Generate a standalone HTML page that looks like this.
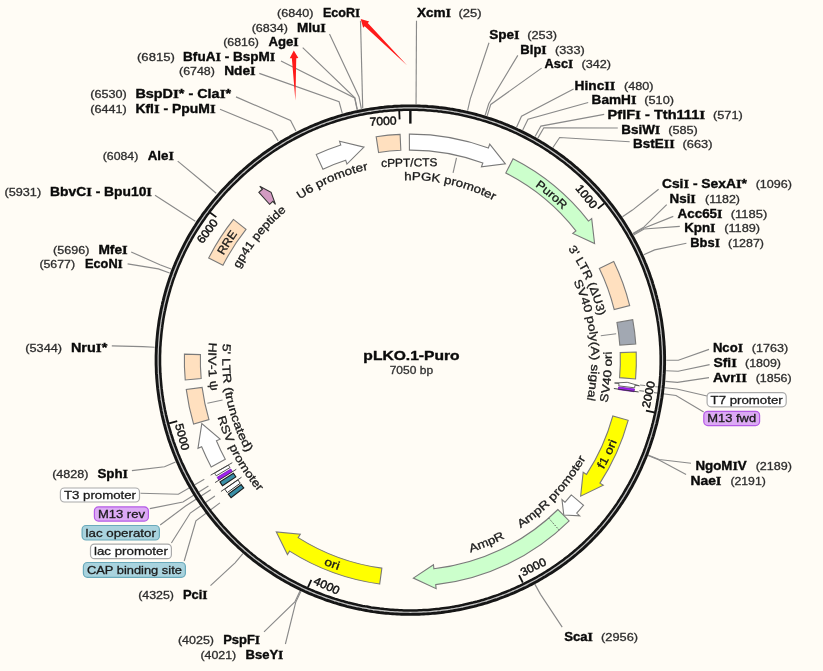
<!DOCTYPE html>
<html><head><meta charset="utf-8"><style>
html,body{margin:0;padding:0;background:#fffcf5;}
svg{display:block;will-change:transform;}
</style></head><body>
<svg width="823" height="671" viewBox="0 0 823 671" font-family="Liberation Sans, sans-serif">
<rect width="823" height="671" fill="#fffcf5"/>
<polyline points="362.72,108.57 360.50,20.70" fill="none" stroke="#8a8a8a" stroke-width="1.15"/>
<polyline points="361.37,108.83 359.08,97.05 329.50,34.10" fill="none" stroke="#8a8a8a" stroke-width="1.15"/>
<polyline points="357.35,109.65 354.86,97.91 302.70,47.60" fill="none" stroke="#8a8a8a" stroke-width="1.15"/>
<polyline points="357.12,109.69 354.63,97.96 281.00,61.00" fill="none" stroke="#8a8a8a" stroke-width="1.15"/>
<polyline points="342.28,113.32 339.09,101.75 259.30,73.40" fill="none" stroke="#8a8a8a" stroke-width="1.15"/>
<polyline points="295.91,131.10 290.55,120.37 236.00,96.90" fill="none" stroke="#8a8a8a" stroke-width="1.15"/>
<polyline points="278.13,140.89 271.93,130.62 220.00,109.20" fill="none" stroke="#8a8a8a" stroke-width="1.15"/>
<polyline points="216.19,193.26 207.09,185.44 177.70,161.10" fill="none" stroke="#8a8a8a" stroke-width="1.15"/>
<polyline points="195.31,221.20 185.23,214.69 155.00,195.30" fill="none" stroke="#8a8a8a" stroke-width="1.15"/>
<polyline points="171.13,268.94 159.92,264.67 131.20,252.00" fill="none" stroke="#8a8a8a" stroke-width="1.15"/>
<polyline points="169.62,273.01 158.34,268.93 127.60,263.90" fill="none" stroke="#8a8a8a" stroke-width="1.15"/>
<polyline points="154.67,347.21 142.69,346.61 111.80,345.90" fill="none" stroke="#8a8a8a" stroke-width="1.15"/>
<polyline points="175.52,462.03 164.51,466.81 131.90,470.60" fill="none" stroke="#8a8a8a" stroke-width="1.15"/>
<polyline points="242.90,553.74 235.05,562.82 210.50,585.70" fill="none" stroke="#8a8a8a" stroke-width="1.15"/>
<polyline points="300.01,591.10 294.84,601.93 264.00,631.90" fill="none" stroke="#8a8a8a" stroke-width="1.15"/>
<polyline points="300.83,591.49 295.70,602.34 285.40,644.00" fill="none" stroke="#8a8a8a" stroke-width="1.15"/>
<polyline points="416.05,104.16 416.50,20.80" fill="none" stroke="#8a8a8a" stroke-width="1.15"/>
<polyline points="467.59,110.58 470.27,98.88 489.00,42.70" fill="none" stroke="#8a8a8a" stroke-width="1.15"/>
<polyline points="485.22,115.29 488.72,103.82 517.80,55.40" fill="none" stroke="#8a8a8a" stroke-width="1.15"/>
<polyline points="487.18,115.90 490.78,104.45 541.60,68.10" fill="none" stroke="#8a8a8a" stroke-width="1.15"/>
<polyline points="516.55,127.17 521.53,116.25 573.60,88.90" fill="none" stroke="#8a8a8a" stroke-width="1.15"/>
<polyline points="522.74,130.09 528.01,119.31 588.20,102.50" fill="none" stroke="#8a8a8a" stroke-width="1.15"/>
<polyline points="535.08,136.54 540.92,126.06 604.20,114.40" fill="none" stroke="#8a8a8a" stroke-width="1.15"/>
<polyline points="537.86,138.11 543.83,127.71 617.80,128.00" fill="none" stroke="#8a8a8a" stroke-width="1.15"/>
<polyline points="552.97,147.51 559.65,137.54 629.70,141.70" fill="none" stroke="#8a8a8a" stroke-width="1.15"/>
<polyline points="622.50,216.82 632.44,210.10 658.60,189.20" fill="none" stroke="#8a8a8a" stroke-width="1.15"/>
<polyline points="632.85,233.49 643.28,227.55 666.70,204.60" fill="none" stroke="#8a8a8a" stroke-width="1.15"/>
<polyline points="633.18,234.08 643.63,228.17 673.30,216.40" fill="none" stroke="#8a8a8a" stroke-width="1.15"/>
<polyline points="633.63,234.88 644.10,229.01 679.80,226.40" fill="none" stroke="#8a8a8a" stroke-width="1.15"/>
<polyline points="643.70,254.83 654.64,249.90 686.40,243.30" fill="none" stroke="#8a8a8a" stroke-width="1.15"/>
<polyline points="666.35,360.21 678.35,360.22 709.00,349.40" fill="none" stroke="#8a8a8a" stroke-width="1.15"/>
<polyline points="666.13,370.71 678.12,371.20 709.60,364.60" fill="none" stroke="#8a8a8a" stroke-width="1.15"/>
<polyline points="665.46,381.41 677.42,382.41 709.00,377.60" fill="none" stroke="#8a8a8a" stroke-width="1.15"/>
<polyline points="648.08,455.08 659.22,459.53 691.00,463.30" fill="none" stroke="#8a8a8a" stroke-width="1.15"/>
<polyline points="647.91,455.51 659.04,459.98 686.10,474.60" fill="none" stroke="#8a8a8a" stroke-width="1.15"/>
<polyline points="534.68,583.88 540.51,594.37 562.20,627.10" fill="none" stroke="#8a8a8a" stroke-width="1.15"/>
<polyline points="204.32,479.24 178.35,494.26 140.50,493.30" fill="none" stroke="#8a8a8a" stroke-width="1.15"/>
<polyline points="208.43,486.08 182.97,501.96 149.80,508.60" fill="none" stroke="#8a8a8a" stroke-width="1.15"/>
<polyline points="210.75,489.72 185.59,506.06 160.20,525.00" fill="none" stroke="#8a8a8a" stroke-width="1.15"/>
<polyline points="214.92,495.93 190.28,513.05 171.40,543.00" fill="none" stroke="#8a8a8a" stroke-width="1.15"/>
<polyline points="219.93,502.87 195.92,520.86 184.20,561.00" fill="none" stroke="#8a8a8a" stroke-width="1.15"/>
<polyline points="640.01,384.97 676.79,388.95 708.10,396.20" fill="none" stroke="#8a8a8a" stroke-width="1.15"/>
<polyline points="639.32,390.65 676.00,395.54 703.70,412.10" fill="none" stroke="#8a8a8a" stroke-width="1.15"/>
<path d="M410.4,107.8 412.6,107.8 414.8,107.8 417.0,107.9 419.2,108.0 421.4,108.0 423.6,108.1 425.8,108.3 427.9,108.4 430.1,108.6 432.3,108.8 434.5,109.0 436.7,109.2 438.9,109.4 441.1,109.7 443.3,110.0 445.5,110.3 447.6,110.6 449.8,110.9 452.0,111.3 454.2,111.6 456.3,112.0 458.5,112.4 460.7,112.9 462.8,113.3 465.0,113.8 467.1,114.3 469.2,114.8 471.4,115.3 473.5,115.8 475.7,116.4 477.8,117.0 479.9,117.6 482.0,118.2 484.1,118.8 486.2,119.5 488.3,120.1 490.4,120.8 492.5,121.5 494.6,122.3 496.6,123.0 498.7,123.8 500.8,124.6 502.8,125.4 504.9,126.2 506.9,127.0 508.9,127.9 511.0,128.7 513.0,129.6 515.0,130.5 517.0,131.4 519.0,132.4 521.0,133.3 522.9,134.3 524.9,135.3 526.8,136.3 528.8,137.3 530.7,138.4 532.7,139.4 534.6,140.5 536.5,141.6 538.4,142.7 540.3,143.8 542.2,145.0 544.0,146.1 545.9,147.3 547.8,148.5 549.6,149.7 551.4,150.9 553.3,152.2 555.1,153.4 556.9,154.7 558.6,156.0 560.4,157.3 562.2,158.6 563.9,159.9 565.7,161.3 567.4,162.6 569.1,164.0 570.8,165.4 572.5,166.8 574.2,168.2 575.9,169.7 577.5,171.1 579.2,172.6 580.8,174.1 582.4,175.6 584.0,177.1 585.6,178.6 587.2,180.1 588.8,181.7 590.3,183.3 591.8,184.8 593.4,186.4 594.9,188.0 596.4,189.6 597.8,191.3 599.3,192.9 600.8,194.6 602.2,196.2 603.6,197.9 605.0,199.6 606.4,201.3 607.8,203.0 609.2,204.8 610.5,206.5 611.8,208.3 613.2,210.0 614.5,211.8 615.8,213.6 617.0,215.4 618.3,217.2 619.5,219.0 620.7,220.8 621.9,222.7 623.1,224.5 624.3,226.4 625.5,228.3 626.6,230.2 627.7,232.0 628.8,233.9 629.9,235.9 631.0,237.8 632.1,239.7 633.1,241.7 634.1,243.6 635.2,245.6 636.1,247.5 637.1,249.5 638.1,251.5 639.0,253.5 639.9,255.5 640.8,257.5 641.7,259.5 642.6,261.5 643.4,263.5 644.3,265.6 645.1,267.6 645.9,269.7 646.7,271.7 647.4,273.8 648.2,275.9 648.9,278.0 649.6,280.0 650.3,282.1 651.0,284.2 651.6,286.3 652.3,288.4 652.9,290.6 653.5,292.7 654.1,294.8 654.6,296.9 655.2,299.1 655.7,301.2 656.2,303.3 656.7,305.5 657.1,307.6 657.6,309.8 658.0,312.0 658.4,314.1 658.8,316.3 659.2,318.5 659.5,320.6 659.9,322.8 660.2,325.0 660.5,327.2 660.8,329.4 661.0,331.5 661.3,333.7 661.5,335.9 661.7,338.1 661.9,340.3 662.0,342.5 662.2,344.7 662.3,346.9 662.4,349.1 662.5,351.3 662.6,353.5 662.6,355.7 662.6,357.9 662.7,360.1 662.7,362.3 662.6,364.5 662.6,366.7 662.5,368.9 662.4,371.1 662.3,373.3 662.2,375.5 662.1,377.7 661.9,379.9 661.7,382.1 661.5,384.3 661.3,386.5 661.1,388.7 660.8,390.9 660.5,393.0 660.2,395.2 659.9,397.4 659.6,399.6 659.3,401.8 658.9,403.9 658.5,406.1 658.1,408.3 657.7,410.4 657.2,412.6 656.8,414.7 656.3,416.9 655.8,419.0 655.3,421.2 654.8,423.3 654.2,425.4 653.6,427.6 653.1,429.7 652.5,431.8 651.8,433.9 651.2,436.0 650.5,438.1 649.9,440.2 649.2,442.3 648.5,444.4 647.7,446.5 647.0,448.6 646.2,450.7 645.5,452.7 644.7,454.8 643.9,456.8 643.0,458.9 642.2,460.9 641.3,462.9 640.4,465.0 639.5,467.0 638.6,469.0 637.7,471.0 636.7,473.0 635.8,475.0 634.8,476.9 633.8,478.9 632.8,480.9 631.7,482.8 630.7,484.8 629.6,486.7 628.5,488.6 627.4,490.5 626.3,492.4 625.2,494.3 624.0,496.2 622.8,498.1 621.7,500.0 620.4,501.8 619.2,503.7 618.0,505.5 616.7,507.3 615.5,509.1 614.2,510.9 612.9,512.7 611.5,514.5 610.2,516.2 608.9,518.0 607.5,519.7 606.1,521.5 604.7,523.2 603.3,524.9 601.8,526.6 600.4,528.2 598.9,529.9 597.4,531.5 595.9,533.2 594.4,534.8 592.9,536.4 591.3,538.0 589.8,539.5 588.2,541.1 586.6,542.6 585.0,544.1 583.4,545.7 581.8,547.2 580.1,548.6 578.4,550.1 576.8,551.5 575.1,553.0 573.4,554.4 571.7,555.8 569.9,557.2 568.2,558.5 566.4,559.9 564.7,561.2 562.9,562.5 561.1,563.8 559.3,565.1 557.5,566.4 555.7,567.6 553.8,568.9 552.0,570.1 550.1,571.3 548.3,572.5 546.4,573.7 544.5,574.8 542.6,575.9 540.7,577.1 538.8,578.2 536.9,579.3 534.9,580.3 533.0,581.4 531.1,582.4 529.1,583.4 527.1,584.4 525.2,585.4 523.2,586.4 521.2,587.3 519.2,588.3 517.2,589.2 515.2,590.1 513.1,591.0 511.1,591.8 509.1,592.7 507.0,593.5 505.0,594.3 502.9,595.1 500.9,595.9 498.8,596.7 496.7,597.4 494.7,598.2 492.6,598.9 490.5,599.6 488.4,600.2 486.3,600.9 484.2,601.5 482.1,602.2 479.9,602.8 477.8,603.4 475.7,603.9 473.5,604.5 471.4,605.0 469.3,605.5 467.1,606.0 465.0,606.5 462.8,607.0 460.7,607.4 458.5,607.8 456.3,608.2 454.2,608.6 452.0,609.0 449.8,609.3 447.6,609.7 445.5,610.0 443.3,610.3 441.1,610.5 438.9,610.8 436.7,611.0 434.5,611.3 432.3,611.5 430.1,611.6 428.0,611.8 425.8,611.9 423.6,612.1 421.4,612.2 419.2,612.3 417.0,612.3 414.8,612.4 412.6,612.4 410.4,612.4 408.1,612.4 405.9,612.4 403.7,612.3 401.5,612.3 399.3,612.2 397.1,612.1 394.9,611.9 392.8,611.8 390.6,611.6 388.4,611.4 386.2,611.2 384.0,611.0 381.8,610.8 379.6,610.5 377.4,610.2 375.2,609.9 373.1,609.6 370.9,609.3 368.7,608.9 366.5,608.6 364.4,608.2 362.2,607.8 360.0,607.3 357.9,606.9 355.7,606.4 353.6,605.9 351.5,605.4 349.3,604.9 347.2,604.4 345.0,603.8 342.9,603.2 340.8,602.6 338.7,602.0 336.6,601.4 334.5,600.7 332.4,600.1 330.3,599.4 328.2,598.7 326.1,597.9 324.1,597.2 322.0,596.4 319.9,595.6 317.9,594.8 315.8,594.0 313.8,593.2 311.8,592.3 309.7,591.5 307.7,590.6 305.7,589.7 303.7,588.8 301.7,587.8 299.7,586.9 297.8,585.9 295.8,584.9 293.9,583.9 291.9,582.9 290.0,581.8 288.0,580.8 286.1,579.7 284.2,578.6 282.3,577.5 280.4,576.4 278.5,575.2 276.7,574.1 274.8,572.9 272.9,571.7 271.1,570.5 269.3,569.3 267.4,568.0 265.6,566.8 263.8,565.5 262.1,564.2 260.3,562.9 258.5,561.6 256.8,560.3 255.0,558.9 253.3,557.6 251.6,556.2 249.9,554.8 248.2,553.4 246.5,552.0 244.8,550.5 243.2,549.1 241.5,547.6 239.9,546.1 238.3,544.6 236.7,543.1 235.1,541.6 233.5,540.1 231.9,538.5 230.4,536.9 228.9,535.4 227.3,533.8 225.8,532.2 224.3,530.6 222.9,528.9 221.4,527.3 219.9,525.6 218.5,524.0 217.1,522.3 215.7,520.6 214.3,518.9 212.9,517.2 211.5,515.4 210.2,513.7 208.9,511.9 207.5,510.2 206.2,508.4 204.9,506.6 203.7,504.8 202.4,503.0 201.2,501.2 200.0,499.4 198.8,497.5 197.6,495.7 196.4,493.8 195.2,491.9 194.1,490.0 193.0,488.2 191.9,486.2 190.8,484.3 189.7,482.4 188.6,480.5 187.6,478.5 186.6,476.6 185.5,474.6 184.6,472.7 183.6,470.7 182.6,468.7 181.7,466.7 180.8,464.7 179.9,462.7 179.0,460.7 178.1,458.7 177.3,456.7 176.4,454.6 175.6,452.6 174.8,450.5 174.0,448.5 173.3,446.4 172.5,444.3 171.8,442.2 171.1,440.2 170.4,438.1 169.7,436.0 169.1,433.9 168.4,431.8 167.8,429.6 167.2,427.5 166.6,425.4 166.1,423.3 165.5,421.1 165.0,419.0 164.5,416.9 164.0,414.7 163.6,412.6 163.1,410.4 162.7,408.2 162.3,406.1 161.9,403.9 161.5,401.7 161.2,399.6 160.8,397.4 160.5,395.2 160.2,393.0 159.9,390.8 159.7,388.7 159.4,386.5 159.2,384.3 159.0,382.1 158.8,379.9 158.7,377.7 158.5,375.5 158.4,373.3 158.3,371.1 158.2,368.9 158.1,366.7 158.1,364.5 158.1,362.3 158.1,360.1 158.1,357.9 158.1,355.7 158.1,353.5 158.2,351.3 158.3,349.1 158.4,346.9 158.5,344.7 158.7,342.5 158.8,340.3 159.0,338.1 159.2,335.9 159.4,333.7 159.7,331.5 159.9,329.4 160.2,327.2 160.5,325.0 160.8,322.8 161.2,320.6 161.5,318.5 161.9,316.3 162.3,314.1 162.7,312.0 163.1,309.8 163.6,307.6 164.1,305.5 164.5,303.4 165.1,301.2 165.6,299.1 166.1,296.9 166.7,294.8 167.3,292.7 167.9,290.6 168.5,288.5 169.1,286.4 169.8,284.3 170.5,282.2 171.2,280.1 171.9,278.0 172.6,275.9 173.4,273.8 174.2,271.8 174.9,269.7 175.7,267.7 176.6,265.6 177.4,263.6 178.3,261.6 179.2,259.6 180.1,257.6 181.0,255.6 181.9,253.6 182.9,251.6 183.8,249.6 184.8,247.7 185.8,245.7 186.9,243.8 187.9,241.8 189.0,239.9 190.0,238.0 191.1,236.1 192.2,234.2 193.4,232.3 194.5,230.4 195.7,228.5 196.8,226.7 198.0,224.8 199.2,223.0 200.5,221.2 201.7,219.4 203.0,217.6 204.2,215.8 205.5,214.0 206.8,212.2 208.1,210.5 209.5,208.7 210.8,207.0 212.2,205.3 213.6,203.6 215.0,201.9 216.4,200.2 217.8,198.5 219.2,196.8 220.6,195.2 222.1,193.6 223.6,191.9 225.1,190.3 226.6,188.7 228.1,187.1 229.6,185.5 231.1,184.0 232.7,182.4 234.2,180.9 235.8,179.4 237.4,177.8 239.0,176.3 240.6,174.9 242.2,173.4 243.9,171.9 245.5,170.5 247.2,169.0 248.8,167.6 250.5,166.2 252.2,164.8 253.9,163.4 255.6,162.1 257.3,160.7 259.1,159.4 260.8,158.0 262.6,156.7 264.4,155.4 266.1,154.1 267.9,152.9 269.7,151.6 271.5,150.4 273.4,149.2 275.2,148.0 277.0,146.8 278.9,145.6 280.8,144.4 282.6,143.3 284.5,142.2 286.4,141.0 288.3,139.9 290.2,138.9 292.2,137.8 294.1,136.8 296.0,135.7 298.0,134.7 299.9,133.7 301.9,132.8 303.9,131.8 305.9,130.9 307.9,129.9 309.9,129.0 311.9,128.2 313.9,127.3 315.9,126.4 318.0,125.6 320.0,124.8 322.1,124.0 324.1,123.2 326.2,122.5 328.3,121.7 330.4,121.0 332.4,120.3 334.5,119.6 336.6,119.0 338.7,118.3 340.8,117.7 343.0,117.1 345.1,116.5 347.2,115.9 349.3,115.4 351.5,114.8 353.6,114.3 355.8,113.8 357.9,113.4 360.1,112.9 362.2,112.5 364.4,112.1 366.5,111.7 368.7,111.3 370.9,110.9 373.1,110.6 375.2,110.3 377.4,110.0 379.6,109.7 381.8,109.4 384.0,109.2 386.2,109.0 388.4,108.8 390.6,108.6 392.8,108.4 394.9,108.3 397.1,108.2 399.3,108.0 401.5,108.0 403.7,107.9 405.9,107.8 408.1,107.8 Z" fill="none" stroke="#c4c4c4" stroke-width="1.6"/>
<path d="M410.4,105.9 412.6,105.9 414.8,105.9 417.0,105.9 419.2,106.0 421.4,106.1 423.7,106.2 425.9,106.3 428.1,106.5 430.3,106.6 432.5,106.8 434.7,107.0 436.9,107.2 439.1,107.5 441.3,107.7 443.5,108.0 445.7,108.3 447.9,108.6 450.1,109.0 452.3,109.3 454.5,109.7 456.7,110.1 458.9,110.5 461.0,111.0 463.2,111.4 465.4,111.9 467.5,112.4 469.7,112.9 471.9,113.4 474.0,113.9 476.2,114.5 478.3,115.1 480.4,115.7 482.6,116.3 484.7,117.0 486.8,117.6 488.9,118.3 491.0,119.0 493.1,119.7 495.2,120.4 497.3,121.2 499.4,122.0 501.5,122.7 503.5,123.5 505.6,124.4 507.6,125.2 509.7,126.1 511.7,126.9 513.8,127.8 515.8,128.7 517.8,129.7 519.8,130.6 521.8,131.6 523.8,132.6 525.8,133.6 527.7,134.6 529.7,135.6 531.7,136.7 533.6,137.7 535.5,138.8 537.5,139.9 539.4,141.0 541.3,142.2 543.2,143.3 545.1,144.5 547.0,145.7 548.8,146.9 550.7,148.1 552.5,149.3 554.4,150.6 556.2,151.8 558.0,153.1 559.8,154.4 561.6,155.7 563.4,157.0 565.1,158.4 566.9,159.7 568.6,161.1 570.4,162.5 572.1,163.9 573.8,165.3 575.5,166.8 577.2,168.2 578.8,169.7 580.5,171.2 582.1,172.6 583.7,174.2 585.4,175.7 587.0,177.2 588.6,178.8 590.1,180.3 591.7,181.9 593.2,183.5 594.8,185.1 596.3,186.7 597.8,188.3 599.3,190.0 600.8,191.6 602.2,193.3 603.7,195.0 605.1,196.7 606.5,198.4 607.9,200.1 609.3,201.8 610.7,203.6 612.1,205.3 613.4,207.1 614.7,208.9 616.0,210.7 617.3,212.5 618.6,214.3 619.9,216.1 621.1,217.9 622.4,219.8 623.6,221.6 624.8,223.5 626.0,225.4 627.1,227.3 628.3,229.2 629.4,231.1 630.5,233.0 631.6,234.9 632.7,236.8 633.8,238.8 634.8,240.7 635.9,242.7 636.9,244.7 637.9,246.7 638.9,248.6 639.8,250.6 640.8,252.6 641.7,254.7 642.6,256.7 643.5,258.7 644.4,260.8 645.2,262.8 646.1,264.9 646.9,266.9 647.7,269.0 648.5,271.1 649.3,273.1 650.0,275.2 650.7,277.3 651.5,279.4 652.2,281.5 652.8,283.6 653.5,285.8 654.1,287.9 654.8,290.0 655.4,292.2 655.9,294.3 656.5,296.4 657.0,298.6 657.6,300.7 658.1,302.9 658.6,305.1 659.0,307.2 659.5,309.4 659.9,311.6 660.3,313.8 660.7,315.9 661.1,318.1 661.5,320.3 661.8,322.5 662.1,324.7 662.4,326.9 662.7,329.1 663.0,331.3 663.2,333.5 663.4,335.7 663.6,337.9 663.8,340.2 664.0,342.4 664.1,344.6 664.3,346.8 664.4,349.0 664.5,351.2 664.5,353.4 664.6,355.7 664.6,357.9 664.6,360.1 664.6,362.3 664.6,364.5 664.5,366.8 664.5,369.0 664.4,371.2 664.3,373.4 664.1,375.6 664.0,377.8 663.8,380.1 663.7,382.3 663.5,384.5 663.2,386.7 663.0,388.9 662.7,391.1 662.5,393.3 662.2,395.5 661.9,397.7 661.5,399.9 661.2,402.1 660.8,404.3 660.4,406.4 660.0,408.6 659.6,410.8 659.1,413.0 658.7,415.2 658.2,417.3 657.7,419.5 657.2,421.6 656.7,423.8 656.1,425.9 655.5,428.1 654.9,430.2 654.3,432.4 653.7,434.5 653.1,436.6 652.4,438.7 651.7,440.9 651.0,443.0 650.3,445.1 649.6,447.2 648.8,449.3 648.1,451.3 647.3,453.4 646.5,455.5 645.7,457.6 644.8,459.6 644.0,461.7 643.1,463.7 642.2,465.8 641.3,467.8 640.4,469.8 639.4,471.8 638.5,473.8 637.5,475.8 636.5,477.8 635.5,479.8 634.5,481.8 633.4,483.8 632.4,485.7 631.3,487.7 630.2,489.6 629.1,491.5 628.0,493.5 626.8,495.4 625.7,497.3 624.5,499.2 623.3,501.0 622.1,502.9 620.8,504.8 619.6,506.6 618.3,508.4 617.0,510.3 615.7,512.1 614.4,513.9 613.1,515.7 611.7,517.4 610.4,519.2 609.0,521.0 607.6,522.7 606.2,524.4 604.8,526.1 603.3,527.8 601.8,529.5 600.4,531.2 598.9,532.8 597.4,534.5 595.8,536.1 594.3,537.7 592.7,539.3 591.2,540.9 589.6,542.5 588.0,544.0 586.3,545.6 584.7,547.1 583.1,548.6 581.4,550.1 579.7,551.6 578.0,553.0 576.3,554.5 574.6,555.9 572.9,557.3 571.2,558.7 569.4,560.1 567.6,561.4 565.9,562.8 564.1,564.1 562.3,565.4 560.5,566.7 558.6,568.0 556.8,569.2 554.9,570.5 553.1,571.7 551.2,572.9 549.3,574.1 547.4,575.3 545.5,576.5 543.6,577.6 541.7,578.7 539.8,579.8 537.9,580.9 535.9,582.0 533.9,583.1 532.0,584.1 530.0,585.1 528.0,586.2 526.0,587.2 524.0,588.1 522.0,589.1 520.0,590.0 518.0,591.0 516.0,591.9 513.9,592.8 511.9,593.6 509.8,594.5 507.8,595.3 505.7,596.1 503.6,597.0 501.6,597.7 499.5,598.5 497.4,599.3 495.3,600.0 493.2,600.7 491.1,601.4 489.0,602.1 486.9,602.8 484.7,603.4 482.6,604.0 480.5,604.6 478.3,605.2 476.2,605.8 474.0,606.4 471.9,606.9 469.7,607.4 467.6,607.9 465.4,608.4 463.2,608.9 461.1,609.3 458.9,609.7 456.7,610.1 454.5,610.5 452.3,610.9 450.1,611.3 447.9,611.6 445.7,611.9 443.5,612.2 441.3,612.5 439.1,612.7 436.9,613.0 434.7,613.2 432.5,613.4 430.3,613.6 428.1,613.7 425.9,613.9 423.7,614.0 421.4,614.1 419.2,614.2 417.0,614.3 414.8,614.3 412.6,614.3 410.4,614.4 408.1,614.3 405.9,614.3 403.7,614.3 401.5,614.2 399.3,614.1 397.0,614.0 394.8,613.9 392.6,613.7 390.4,613.6 388.2,613.4 386.0,613.2 383.8,613.0 381.6,612.7 379.4,612.5 377.2,612.2 375.0,611.9 372.8,611.6 370.6,611.2 368.4,610.9 366.2,610.5 364.0,610.1 361.8,609.7 359.7,609.2 357.5,608.8 355.3,608.3 353.2,607.8 351.0,607.3 348.8,606.8 346.7,606.3 344.5,605.7 342.4,605.1 340.3,604.5 338.1,603.9 336.0,603.2 333.9,602.6 331.8,601.9 329.7,601.2 327.6,600.5 325.5,599.8 323.4,599.0 321.3,598.2 319.2,597.5 317.2,596.7 315.1,595.8 313.1,595.0 311.0,594.1 309.0,593.3 306.9,592.4 304.9,591.5 302.9,590.5 300.9,589.6 298.9,588.6 296.9,587.6 294.9,586.6 293.0,585.6 291.0,584.6 289.0,583.5 287.1,582.5 285.2,581.4 283.2,580.3 281.3,579.2 279.4,578.0 277.5,576.9 275.6,575.7 273.7,574.5 271.9,573.3 270.0,572.1 268.2,570.9 266.3,569.6 264.5,568.4 262.7,567.1 260.9,565.8 259.1,564.5 257.3,563.2 255.6,561.8 253.8,560.5 252.1,559.1 250.3,557.7 248.6,556.3 246.9,554.9 245.2,553.4 243.5,552.0 241.9,550.5 240.2,549.0 238.6,547.6 237.0,546.0 235.3,544.5 233.7,543.0 232.1,541.4 230.6,539.9 229.0,538.3 227.5,536.7 225.9,535.1 224.4,533.5 222.9,531.9 221.4,530.2 219.9,528.6 218.5,526.9 217.0,525.2 215.6,523.5 214.2,521.8 212.8,520.1 211.4,518.4 210.0,516.6 208.6,514.9 207.3,513.1 206.0,511.3 204.7,509.5 203.4,507.7 202.1,505.9 200.8,504.1 199.6,502.3 198.3,500.4 197.1,498.6 195.9,496.7 194.7,494.8 193.6,492.9 192.4,491.0 191.3,489.1 190.2,487.2 189.1,485.3 188.0,483.4 186.9,481.4 185.9,479.5 184.8,477.5 183.8,475.5 182.8,473.5 181.8,471.6 180.9,469.6 179.9,467.6 179.0,465.5 178.1,463.5 177.2,461.5 176.3,459.4 175.5,457.4 174.6,455.3 173.8,453.3 173.0,451.2 172.2,449.1 171.4,447.1 170.7,445.0 170.0,442.9 169.2,440.8 168.5,438.7 167.9,436.6 167.2,434.4 166.6,432.3 165.9,430.2 165.3,428.0 164.8,425.9 164.2,423.8 163.7,421.6 163.1,419.5 162.6,417.3 162.1,415.1 161.7,413.0 161.2,410.8 160.8,408.6 160.4,406.4 160.0,404.3 159.6,402.1 159.2,399.9 158.9,397.7 158.6,395.5 158.3,393.3 158.0,391.1 157.7,388.9 157.5,386.7 157.3,384.5 157.1,382.3 156.9,380.0 156.7,377.8 156.6,375.6 156.4,373.4 156.3,371.2 156.3,369.0 156.2,366.8 156.1,364.5 156.1,362.3 156.1,360.1 156.1,357.9 156.1,355.7 156.2,353.4 156.3,351.2 156.3,349.0 156.5,346.8 156.6,344.6 156.7,342.4 156.9,340.2 157.1,337.9 157.3,335.7 157.5,333.5 157.7,331.3 158.0,329.1 158.3,326.9 158.6,324.7 158.9,322.5 159.2,320.3 159.6,318.1 160.0,316.0 160.4,313.8 160.8,311.6 161.2,309.4 161.7,307.2 162.2,305.1 162.6,302.9 163.2,300.8 163.7,298.6 164.2,296.5 164.8,294.3 165.4,292.2 166.0,290.0 166.6,287.9 167.3,285.8 167.9,283.7 168.6,281.6 169.3,279.5 170.0,277.4 170.8,275.3 171.5,273.2 172.3,271.1 173.1,269.0 173.9,267.0 174.8,264.9 175.6,262.9 176.5,260.8 177.4,258.8 178.3,256.8 179.2,254.8 180.1,252.8 181.1,250.8 182.1,248.8 183.1,246.8 184.1,244.8 185.1,242.9 186.2,240.9 187.2,239.0 188.3,237.0 189.4,235.1 190.5,233.2 191.7,231.3 192.8,229.4 194.0,227.5 195.2,225.7 196.4,223.8 197.6,221.9 198.8,220.1 200.1,218.3 201.4,216.5 202.6,214.7 203.9,212.9 205.3,211.1 206.6,209.3 207.9,207.6 209.3,205.8 210.6,204.1 212.0,202.4 213.4,200.6 214.9,198.9 216.3,197.3 217.7,195.6 219.2,193.9 220.6,192.3 222.1,190.6 223.6,189.0 225.1,187.4 226.7,185.8 228.2,184.2 229.7,182.6 231.3,181.1 232.9,179.5 234.5,178.0 236.1,176.4 237.7,174.9 239.3,173.4 240.9,171.9 242.6,170.5 244.2,169.0 245.9,167.6 247.6,166.1 249.3,164.7 251.0,163.3 252.7,161.9 254.4,160.5 256.2,159.2 257.9,157.8 259.7,156.5 261.4,155.1 263.2,153.8 265.0,152.5 266.8,151.3 268.6,150.0 270.5,148.8 272.3,147.5 274.1,146.3 276.0,145.1 277.9,143.9 279.8,142.8 281.6,141.6 283.5,140.5 285.5,139.3 287.4,138.2 289.3,137.2 291.2,136.1 293.2,135.0 295.1,134.0 297.1,133.0 299.1,132.0 301.1,131.0 303.1,130.0 305.1,129.1 307.1,128.2 309.1,127.3 311.1,126.4 313.2,125.5 315.2,124.6 317.3,123.8 319.3,123.0 321.4,122.2 323.5,121.4 325.5,120.6 327.6,119.9 329.7,119.2 331.8,118.5 333.9,117.8 336.1,117.1 338.2,116.4 340.3,115.8 342.4,115.2 344.6,114.6 346.7,114.0 348.9,113.5 351.0,113.0 353.2,112.4 355.3,111.9 357.5,111.5 359.7,111.0 361.8,110.6 364.0,110.2 366.2,109.8 368.4,109.4 370.6,109.0 372.8,108.7 375.0,108.4 377.2,108.1 379.4,107.8 381.6,107.5 383.8,107.3 386.0,107.0 388.2,106.8 390.4,106.6 392.6,106.5 394.8,106.3 397.0,106.2 399.3,106.1 401.5,106.0 403.7,105.9 405.9,105.9 408.1,105.9 Z" fill="none" stroke="#161616" stroke-width="2.9"/>
<path d="M410.4,109.8 412.5,109.8 414.7,109.8 416.9,109.8 419.1,109.9 421.3,110.0 423.5,110.1 425.6,110.2 427.8,110.4 430.0,110.5 432.2,110.7 434.3,110.9 436.5,111.1 438.7,111.4 440.9,111.6 443.0,111.9 445.2,112.2 447.4,112.5 449.5,112.8 451.7,113.2 453.8,113.6 456.0,113.9 458.1,114.3 460.3,114.8 462.4,115.2 464.5,115.7 466.7,116.2 468.8,116.7 470.9,117.2 473.0,117.7 475.1,118.3 477.3,118.9 479.4,119.4 481.5,120.1 483.5,120.7 485.6,121.3 487.7,122.0 489.8,122.7 491.9,123.4 493.9,124.1 496.0,124.8 498.0,125.6 500.1,126.4 502.1,127.2 504.1,128.0 506.2,128.8 508.2,129.7 510.2,130.5 512.2,131.4 514.2,132.3 516.2,133.2 518.1,134.1 520.1,135.1 522.1,136.1 524.0,137.0 525.9,138.0 527.9,139.1 529.8,140.1 531.7,141.1 533.6,142.2 535.5,143.3 537.4,144.4 539.3,145.5 541.2,146.6 543.0,147.8 544.9,149.0 546.7,150.1 548.5,151.3 550.3,152.6 552.1,153.8 553.9,155.0 555.7,156.3 557.5,157.6 559.3,158.9 561.0,160.2 562.8,161.5 564.5,162.8 566.2,164.2 567.9,165.5 569.6,166.9 571.3,168.3 572.9,169.7 574.6,171.2 576.2,172.6 577.9,174.1 579.5,175.5 581.1,177.0 582.7,178.5 584.3,180.0 585.8,181.5 587.4,183.1 588.9,184.6 590.4,186.2 591.9,187.8 593.4,189.4 594.9,191.0 596.4,192.6 597.9,194.2 599.3,195.9 600.7,197.5 602.1,199.2 603.5,200.9 604.9,202.5 606.3,204.3 607.6,206.0 609.0,207.7 610.3,209.4 611.6,211.2 612.9,212.9 614.2,214.7 615.4,216.5 616.7,218.3 617.9,220.1 619.1,221.9 620.3,223.7 621.5,225.6 622.7,227.4 623.8,229.3 624.9,231.2 626.1,233.0 627.2,234.9 628.2,236.8 629.3,238.7 630.4,240.6 631.4,242.6 632.4,244.5 633.4,246.4 634.4,248.4 635.4,250.4 636.3,252.3 637.2,254.3 638.2,256.3 639.1,258.3 639.9,260.3 640.8,262.3 641.6,264.3 642.5,266.3 643.3,268.3 644.1,270.4 644.8,272.4 645.6,274.5 646.3,276.5 647.1,278.6 647.8,280.7 648.4,282.7 649.1,284.8 649.8,286.9 650.4,289.0 651.0,291.1 651.6,293.2 652.2,295.3 652.7,297.4 653.3,299.5 653.8,301.7 654.3,303.8 654.8,305.9 655.2,308.0 655.7,310.2 656.1,312.3 656.5,314.5 656.9,316.6 657.3,318.8 657.6,320.9 658.0,323.1 658.3,325.3 658.6,327.4 658.8,329.6 659.1,331.8 659.3,333.9 659.6,336.1 659.8,338.3 659.9,340.5 660.1,342.6 660.2,344.8 660.4,347.0 660.5,349.2 660.6,351.4 660.6,353.5 660.7,355.7 660.7,357.9 660.7,360.1 660.7,362.3 660.7,364.5 660.6,366.7 660.6,368.8 660.5,371.0 660.4,373.2 660.3,375.4 660.1,377.6 660.0,379.7 659.8,381.9 659.6,384.1 659.4,386.3 659.1,388.4 658.9,390.6 658.6,392.8 658.3,394.9 658.0,397.1 657.7,399.3 657.3,401.4 657.0,403.6 656.6,405.7 656.2,407.9 655.8,410.0 655.3,412.2 654.9,414.3 654.4,416.4 653.9,418.6 653.4,420.7 652.9,422.8 652.3,424.9 651.8,427.1 651.2,429.2 650.6,431.3 650.0,433.4 649.3,435.5 648.7,437.5 648.0,439.6 647.3,441.7 646.6,443.8 645.9,445.8 645.2,447.9 644.4,450.0 643.7,452.0 642.9,454.0 642.1,456.1 641.2,458.1 640.4,460.1 639.5,462.1 638.7,464.1 637.8,466.1 636.9,468.1 635.9,470.1 635.0,472.1 634.0,474.1 633.1,476.0 632.1,478.0 631.1,479.9 630.0,481.9 629.0,483.8 627.9,485.7 626.8,487.6 625.7,489.5 624.6,491.4 623.5,493.3 622.4,495.2 621.2,497.0 620.0,498.9 618.8,500.7 617.6,502.6 616.4,504.4 615.1,506.2 613.9,508.0 612.6,509.8 611.3,511.5 610.0,513.3 608.7,515.0 607.3,516.8 606.0,518.5 604.6,520.2 603.2,521.9 601.8,523.6 600.4,525.3 598.9,526.9 597.5,528.6 596.0,530.2 594.5,531.8 593.0,533.4 591.5,535.0 589.9,536.6 588.4,538.1 586.8,539.7 585.3,541.2 583.7,542.7 582.1,544.2 580.4,545.7 578.8,547.2 577.1,548.6 575.5,550.1 573.8,551.5 572.1,552.9 570.4,554.3 568.7,555.7 567.0,557.0 565.2,558.3 563.5,559.7 561.7,561.0 559.9,562.3 558.2,563.5 556.4,564.8 554.6,566.0 552.7,567.3 550.9,568.5 549.1,569.7 547.2,570.9 545.4,572.0 543.5,573.2 541.6,574.3 539.7,575.4 537.8,576.5 535.9,577.6 534.0,578.6 532.1,579.7 530.1,580.7 528.2,581.7 526.2,582.7 524.3,583.7 522.3,584.6 520.3,585.6 518.3,586.5 516.4,587.4 514.4,588.3 512.3,589.2 510.3,590.1 508.3,590.9 506.3,591.7 504.3,592.5 502.2,593.3 500.2,594.1 498.1,594.9 496.1,595.6 494.0,596.3 491.9,597.0 489.9,597.7 487.8,598.4 485.7,599.0 483.6,599.7 481.5,600.3 479.4,600.9 477.3,601.5 475.2,602.0 473.1,602.6 470.9,603.1 468.8,603.6 466.7,604.1 464.6,604.6 462.4,605.1 460.3,605.5 458.1,605.9 456.0,606.3 453.8,606.7 451.7,607.1 449.5,607.4 447.4,607.7 445.2,608.0 443.0,608.3 440.9,608.6 438.7,608.9 436.5,609.1 434.3,609.3 432.2,609.5 430.0,609.7 427.8,609.9 425.6,610.0 423.5,610.1 421.3,610.2 419.1,610.3 416.9,610.4 414.7,610.4 412.5,610.4 410.4,610.5 408.2,610.4 406.0,610.4 403.8,610.4 401.6,610.3 399.4,610.2 397.2,610.1 395.1,610.0 392.9,609.8 390.7,609.7 388.5,609.5 386.4,609.3 384.2,609.1 382.0,608.8 379.8,608.6 377.7,608.3 375.5,608.0 373.3,607.7 371.2,607.4 369.0,607.0 366.9,606.6 364.7,606.3 362.6,605.9 360.4,605.4 358.3,605.0 356.2,604.5 354.0,604.0 351.9,603.5 349.8,603.0 347.7,602.5 345.6,601.9 343.4,601.3 341.3,600.8 339.2,600.1 337.2,599.5 335.1,598.9 333.0,598.2 330.9,597.5 328.8,596.8 326.8,596.1 324.7,595.4 322.7,594.6 320.6,593.8 318.6,593.0 316.6,592.2 314.5,591.4 312.5,590.5 310.5,589.7 308.5,588.8 306.5,587.9 304.5,587.0 302.6,586.1 300.6,585.1 298.6,584.1 296.7,583.2 294.8,582.2 292.8,581.1 290.9,580.1 289.0,579.1 287.1,578.0 285.2,576.9 283.3,575.8 281.4,574.7 279.5,573.6 277.7,572.4 275.8,571.2 274.0,570.1 272.2,568.9 270.4,567.6 268.6,566.4 266.8,565.2 265.0,563.9 263.2,562.6 261.4,561.3 259.7,560.0 257.9,558.7 256.2,557.4 254.5,556.0 252.8,554.7 251.1,553.3 249.4,551.9 247.8,550.5 246.1,549.0 244.5,547.6 242.8,546.1 241.2,544.7 239.6,543.2 238.0,541.7 236.4,540.2 234.9,538.7 233.3,537.1 231.8,535.6 230.3,534.0 228.8,532.4 227.3,530.8 225.8,529.2 224.3,527.6 222.8,526.0 221.4,524.3 220.0,522.7 218.6,521.0 217.2,519.3 215.8,517.7 214.4,515.9 213.1,514.2 211.7,512.5 210.4,510.8 209.1,509.0 207.8,507.3 206.5,505.5 205.3,503.7 204.0,501.9 202.8,500.1 201.6,498.3 200.4,496.5 199.2,494.6 198.0,492.8 196.9,490.9 195.8,489.0 194.6,487.2 193.5,485.3 192.5,483.4 191.4,481.5 190.3,479.6 189.3,477.6 188.3,475.7 187.3,473.8 186.3,471.8 185.3,469.8 184.4,467.9 183.5,465.9 182.5,463.9 181.6,461.9 180.8,459.9 179.9,457.9 179.1,455.9 178.2,453.9 177.4,451.9 176.6,449.8 175.9,447.8 175.1,445.7 174.4,443.7 173.6,441.6 172.9,439.5 172.3,437.5 171.6,435.4 170.9,433.3 170.3,431.2 169.7,429.1 169.1,427.0 168.5,424.9 168.0,422.8 167.4,420.7 166.9,418.5 166.4,416.4 165.9,414.3 165.5,412.2 165.0,410.0 164.6,407.9 164.2,405.7 163.8,403.6 163.4,401.4 163.1,399.3 162.7,397.1 162.4,394.9 162.1,392.8 161.9,390.6 161.6,388.4 161.4,386.3 161.2,384.1 161.0,381.9 160.8,379.7 160.6,377.6 160.5,375.4 160.3,373.2 160.2,371.0 160.2,368.8 160.1,366.7 160.0,364.5 160.0,362.3 160.0,360.1 160.0,357.9 160.0,355.7 160.1,353.5 160.2,351.4 160.2,349.2 160.3,347.0 160.5,344.8 160.6,342.6 160.8,340.5 161.0,338.3 161.2,336.1 161.4,333.9 161.6,331.8 161.9,329.6 162.2,327.4 162.4,325.3 162.8,323.1 163.1,320.9 163.4,318.8 163.8,316.6 164.2,314.5 164.6,312.3 165.1,310.2 165.5,308.1 166.0,305.9 166.4,303.8 167.0,301.7 167.5,299.5 168.0,297.4 168.6,295.3 169.2,293.2 169.8,291.1 170.4,289.0 171.0,286.9 171.7,284.8 172.3,282.8 173.0,280.7 173.7,278.6 174.5,276.6 175.2,274.5 176.0,272.5 176.8,270.4 177.6,268.4 178.4,266.4 179.2,264.4 180.1,262.4 181.0,260.4 181.8,258.4 182.8,256.4 183.7,254.4 184.6,252.4 185.6,250.5 186.6,248.5 187.6,246.6 188.6,244.7 189.6,242.7 190.7,240.8 191.7,238.9 192.8,237.0 193.9,235.1 195.0,233.3 196.2,231.4 197.3,229.6 198.5,227.7 199.7,225.9 200.9,224.1 202.1,222.3 203.3,220.5 204.6,218.7 205.8,216.9 207.1,215.1 208.4,213.4 209.7,211.6 211.0,209.9 212.4,208.2 213.7,206.5 215.1,204.8 216.5,203.1 217.9,201.4 219.3,199.8 220.7,198.1 222.1,196.5 223.6,194.8 225.0,193.2 226.5,191.6 228.0,190.0 229.5,188.5 231.0,186.9 232.5,185.3 234.1,183.8 235.6,182.3 237.2,180.8 238.7,179.3 240.3,177.8 241.9,176.3 243.5,174.8 245.2,173.4 246.8,171.9 248.4,170.5 250.1,169.1 251.8,167.7 253.4,166.3 255.1,164.9 256.8,163.6 258.5,162.2 260.3,160.9 262.0,159.6 263.7,158.3 265.5,157.0 267.3,155.7 269.0,154.5 270.8,153.2 272.6,152.0 274.4,150.8 276.2,149.6 278.1,148.4 279.9,147.2 281.8,146.1 283.6,145.0 285.5,143.8 287.4,142.7 289.3,141.7 291.2,140.6 293.1,139.5 295.0,138.5 296.9,137.5 298.9,136.5 300.8,135.5 302.8,134.5 304.7,133.6 306.7,132.6 308.7,131.7 310.7,130.8 312.7,129.9 314.7,129.1 316.7,128.2 318.7,127.4 320.7,126.6 322.8,125.8 324.8,125.1 326.8,124.3 328.9,123.6 331.0,122.9 333.0,122.2 335.1,121.5 337.2,120.8 339.3,120.2 341.4,119.6 343.5,119.0 345.6,118.4 347.7,117.8 349.8,117.3 351.9,116.7 354.0,116.2 356.2,115.7 358.3,115.3 360.4,114.8 362.6,114.4 364.7,114.0 366.9,113.6 369.0,113.2 371.2,112.9 373.4,112.5 375.5,112.2 377.7,111.9 379.8,111.6 382.0,111.4 384.2,111.1 386.4,110.9 388.5,110.7 390.7,110.5 392.9,110.4 395.1,110.2 397.2,110.1 399.4,110.0 401.6,109.9 403.8,109.8 406.0,109.8 408.2,109.8 Z" fill="none" stroke="#161616" stroke-width="2.55"/>
<line x1="410.35" y1="110.75" x2="410.35" y2="123.60" stroke="#111" stroke-width="2.4"/>
<rect transform="rotate(51.06 410.35 360.1)" x="380.35" y="115.10" width="27.0" height="10" fill="#fffcf5"/>
<line x1="604.31" y1="203.39" x2="597.81" y2="208.64" stroke="#111" stroke-width="1.8"/>
<text transform="rotate(51.06 410.35 360.1)" x="407.35" y="124.10" font-size="11.5" fill="#111" stroke="#111" stroke-width="0.45" text-anchor="end" textLength="27.0" lengthAdjust="spacingAndGlyphs">1000</text>
<rect transform="rotate(-77.87 410.35 360.1)" x="413.35" y="595.10" width="27.0" height="10" fill="#fffcf5"/>
<line x1="654.13" y1="412.49" x2="645.97" y2="410.73" stroke="#111" stroke-width="1.8"/>
<text transform="rotate(-77.87 410.35 360.1)" x="413.35" y="604.10" font-size="11.5" fill="#111" stroke="#111" stroke-width="0.45" text-anchor="start" textLength="27.0" lengthAdjust="spacingAndGlyphs">2000</text>
<rect transform="rotate(-26.81 410.35 360.1)" x="413.35" y="595.10" width="27.0" height="10" fill="#fffcf5"/>
<line x1="522.81" y1="582.65" x2="519.04" y2="575.20" stroke="#111" stroke-width="1.8"/>
<text transform="rotate(-26.81 410.35 360.1)" x="413.35" y="604.10" font-size="11.5" fill="#111" stroke="#111" stroke-width="0.45" text-anchor="start" textLength="27.0" lengthAdjust="spacingAndGlyphs">3000</text>
<rect transform="rotate(24.26 410.35 360.1)" x="413.35" y="595.10" width="27.0" height="10" fill="#fffcf5"/>
<line x1="307.92" y1="587.44" x2="311.35" y2="579.83" stroke="#111" stroke-width="1.8"/>
<text transform="rotate(24.26 410.35 360.1)" x="413.35" y="604.10" font-size="11.5" fill="#111" stroke="#111" stroke-width="0.45" text-anchor="start" textLength="27.0" lengthAdjust="spacingAndGlyphs">4000</text>
<rect transform="rotate(75.32 410.35 360.1)" x="413.35" y="595.10" width="27.0" height="10" fill="#fffcf5"/>
<line x1="169.14" y1="423.29" x2="177.22" y2="421.18" stroke="#111" stroke-width="1.8"/>
<text transform="rotate(75.32 410.35 360.1)" x="413.35" y="604.10" font-size="11.5" fill="#111" stroke="#111" stroke-width="0.45" text-anchor="start" textLength="27.0" lengthAdjust="spacingAndGlyphs">5000</text>
<rect transform="rotate(306.38 410.35 360.1)" x="380.35" y="115.10" width="27.0" height="10" fill="#fffcf5"/>
<line x1="209.61" y1="212.19" x2="216.33" y2="217.14" stroke="#111" stroke-width="1.8"/>
<text transform="rotate(306.38 410.35 360.1)" x="407.35" y="124.10" font-size="11.5" fill="#111" stroke="#111" stroke-width="0.45" text-anchor="end" textLength="27.0" lengthAdjust="spacingAndGlyphs">6000</text>
<rect transform="rotate(357.45 410.35 360.1)" x="380.35" y="115.10" width="27.0" height="10" fill="#fffcf5"/>
<line x1="399.24" y1="111.00" x2="399.61" y2="119.34" stroke="#111" stroke-width="1.8"/>
<text transform="rotate(357.45 410.35 360.1)" x="407.35" y="124.10" font-size="11.5" fill="#111" stroke="#111" stroke-width="0.45" text-anchor="end" textLength="27.0" lengthAdjust="spacingAndGlyphs">7000</text>
<path d="M376.17,136.70 A226.00,226.00 0 0 1 400.10,134.33 L400.82,150.32 A210.00,210.00 0 0 0 378.59,152.52 Z" fill="#ffe0bf" stroke="#7a7a7a" stroke-width="1.1" stroke-linejoin="miter"/>
<path d="M409.36,134.10 A226.00,226.00 0 0 1 488.35,147.99 L489.73,144.23 L505.37,163.90 L481.45,166.76 L482.83,163.00 A210.00,210.00 0 0 0 409.43,150.10 Z" fill="#ffffff" stroke="#7a7a7a" stroke-width="1.1" stroke-linejoin="miter"/>
<path d="M513.06,158.79 A226.00,226.00 0 0 1 588.54,221.08 L591.69,218.62 L594.60,243.58 L572.77,233.39 L575.92,230.93 A210.00,210.00 0 0 0 505.79,173.04 Z" fill="#ccffcc" stroke="#7a7a7a" stroke-width="1.1" stroke-linejoin="miter"/>
<path d="M613.74,261.56 A226.00,226.00 0 0 1 629.68,305.62 L614.16,309.47 A210.00,210.00 0 0 0 599.34,268.54 Z" fill="#ffe0bf" stroke="#7a7a7a" stroke-width="1.1" stroke-linejoin="miter"/>
<path d="M632.71,319.69 A226.00,226.00 0 0 1 635.77,343.94 L619.81,345.09 A210.00,210.00 0 0 0 616.97,322.55 Z" fill="#a2a8b2" stroke="#7a7a7a" stroke-width="1.1" stroke-linejoin="miter"/>
<path d="M636.21,352.02 A226.00,226.00 0 0 1 635.56,379.01 L619.61,377.67 A210.00,210.00 0 0 0 620.22,352.59 Z" fill="#ffff00" stroke="#7a7a7a" stroke-width="1.1" stroke-linejoin="miter"/>
<polygon points="618.76,385.87 619.04,383.51 614.57,383.01 627.21,382.32 639.41,385.79 634.94,385.29 634.64,387.84" fill="#fff" stroke="#555" stroke-width="0.9"/>
<path d="M634.49,389.01 A226.00,226.00 0 0 1 634.12,391.75 L618.28,389.51 A210.00,210.00 0 0 0 618.62,386.97 Z" fill="#a020f0" stroke="#7a10c0" stroke-width="0.8" stroke-linejoin="miter"/>
<line x1="613.87" y1="388.52" x2="638.63" y2="391.98" stroke="#333" stroke-width="0.9"/>
<path d="M628.18,420.31 A226.00,226.00 0 0 1 599.93,483.12 L603.29,485.30 L580.65,496.19 L583.16,472.24 L586.51,474.41 A210.00,210.00 0 0 0 612.76,416.04 Z" fill="#ffff00" stroke="#7a7a7a" stroke-width="1.1" stroke-linejoin="miter"/>
<path d="M583.60,505.22 A226.00,226.00 0 0 1 576.69,513.09 L579.64,515.80 L563.80,514.95 L561.97,499.55 L564.92,502.26 A210.00,210.00 0 0 0 571.34,494.94 Z" fill="#ffffff" stroke="#7a7a7a" stroke-width="1.1" stroke-linejoin="miter"/>
<path d="M569.18,520.88 A226.00,226.00 0 0 1 435.70,584.67 L436.15,588.65 L413.36,578.08 L433.46,564.80 L433.90,568.77 A210.00,210.00 0 0 0 557.93,509.50 Z" fill="#ccffcc" stroke="#7a7a7a" stroke-width="1.1" stroke-linejoin="miter"/>
<line x1="548.67" y1="518.11" x2="559.21" y2="530.15" stroke="#555" stroke-width="1" stroke-dasharray="1.5,1.5"/>
<path d="M379.68,584.01 A226.00,226.00 0 0 1 289.59,551.13 L287.45,554.51 L276.29,532.00 L300.27,534.22 L298.14,537.60 A210.00,210.00 0 0 0 381.85,568.16 Z" fill="#ffff00" stroke="#7a7a7a" stroke-width="1.1" stroke-linejoin="miter"/>
<path d="M231.05,497.68 A226.00,226.00 0 0 1 228.33,494.05 L241.21,484.57 A210.00,210.00 0 0 0 243.75,487.94 Z" fill="#3a8fa6" stroke="#1a1a1a" stroke-width="1.1" stroke-linejoin="miter"/>
<path d="M227.28,492.62 A226.00,226.00 0 0 1 224.77,489.08 L237.91,479.95 A210.00,210.00 0 0 0 240.24,483.24 Z" fill="#ffffff" stroke="#333" stroke-width="1.0" stroke-linejoin="miter"/>
<line x1="241.50" y1="477.23" x2="220.96" y2="491.48" stroke="#333" stroke-width="0.9"/>
<path d="M222.55,485.82 A226.00,226.00 0 0 1 219.96,481.86 L233.43,473.24 A210.00,210.00 0 0 0 235.84,476.92 Z" fill="#3a8fa6" stroke="#1a1a1a" stroke-width="1.1" stroke-linejoin="miter"/>
<path d="M218.80,480.03 A226.00,226.00 0 0 1 217.14,477.34 L230.82,469.04 A210.00,210.00 0 0 0 232.36,471.54 Z" fill="#a020f0" stroke="#7a10c0" stroke-width="0.8" stroke-linejoin="miter"/>
<line x1="236.27" y1="469.30" x2="215.09" y2="482.59" stroke="#333" stroke-width="0.9"/>
<path d="M216.23,475.82 A226.00,226.00 0 0 1 214.63,473.10 L228.48,465.10 A210.00,210.00 0 0 0 229.97,467.63 Z" fill="#ffffff" stroke="#444" stroke-width="0.9" stroke-linejoin="miter"/>
<line x1="232.29" y1="462.69" x2="210.63" y2="475.18" stroke="#444" stroke-width="0.9"/>
<path d="M211.18,466.90 A226.00,226.00 0 0 1 201.65,446.82 L197.96,448.36 L201.80,423.58 L220.12,439.15 L216.43,440.68 A210.00,210.00 0 0 0 225.28,459.34 Z" fill="#ffffff" stroke="#7a7a7a" stroke-width="1.1" stroke-linejoin="miter"/>
<path d="M193.60,424.10 A226.00,226.00 0 0 1 186.26,389.40 L202.12,387.33 A210.00,210.00 0 0 0 208.95,419.57 Z" fill="#ffe0bf" stroke="#7a7a7a" stroke-width="1.1" stroke-linejoin="miter"/>
<path d="M185.23,379.99 A226.00,226.00 0 0 1 184.43,354.18 L200.42,354.60 A210.00,210.00 0 0 0 201.17,378.59 Z" fill="#ffe0bf" stroke="#7a7a7a" stroke-width="1.1" stroke-linejoin="miter"/>
<path d="M208.68,258.10 A226.00,226.00 0 0 1 233.48,219.41 L246.00,229.37 A210.00,210.00 0 0 0 222.96,265.32 Z" fill="#ffe0bf" stroke="#7a7a7a" stroke-width="1.1" stroke-linejoin="miter"/>
<path d="M258.83,192.41 A226.00,226.00 0 0 1 262.38,189.28 L259.76,186.25 L271.10,192.37 L275.47,204.39 L272.85,201.37 A210.00,210.00 0 0 0 269.56,204.29 Z" fill="#d39bc2" stroke="#333" stroke-width="1.1" stroke-linejoin="miter"/>
<path d="M316.27,154.61 A226.00,226.00 0 0 1 340.77,145.08 L339.54,141.27 L363.98,147.09 L346.93,164.10 L345.70,160.30 A210.00,210.00 0 0 0 322.93,169.16 Z" fill="#ffffff" stroke="#7a7a7a" stroke-width="1.1" stroke-linejoin="miter"/>
<text x="277.00" y="17.00" font-size="11.0" font-weight="normal" fill="#2e2e2e" stroke="#2e2e2e" stroke-width="0.3" text-anchor="start" textLength="36.40" lengthAdjust="spacingAndGlyphs">(6840)</text>
<text x="322.90" y="17.00" font-size="12.1" font-weight="bold" fill="#0a0a0a" stroke="#0a0a0a" stroke-width="0.35" text-anchor="start" textLength="37.30" lengthAdjust="spacingAndGlyphs">EcoR<tspan font-family="Liberation Serif" font-size="12.6">I</tspan></text>
<text x="251.70" y="31.60" font-size="11.0" font-weight="normal" fill="#2e2e2e" stroke="#2e2e2e" stroke-width="0.3" text-anchor="start" textLength="36.10" lengthAdjust="spacingAndGlyphs">(6834)</text>
<text x="297.00" y="31.60" font-size="12.1" font-weight="bold" fill="#0a0a0a" stroke="#0a0a0a" stroke-width="0.35" text-anchor="start" textLength="28.90" lengthAdjust="spacingAndGlyphs">Mlu<tspan font-family="Liberation Serif" font-size="12.6">I</tspan></text>
<text x="223.20" y="45.90" font-size="11.0" font-weight="normal" fill="#2e2e2e" stroke="#2e2e2e" stroke-width="0.3" text-anchor="start" textLength="35.80" lengthAdjust="spacingAndGlyphs">(6816)</text>
<text x="268.40" y="45.90" font-size="12.1" font-weight="bold" fill="#0a0a0a" stroke="#0a0a0a" stroke-width="0.35" text-anchor="start" textLength="30.20" lengthAdjust="spacingAndGlyphs">Age<tspan font-family="Liberation Serif" font-size="12.6">I</tspan></text>
<text x="137.00" y="60.50" font-size="11.0" font-weight="normal" fill="#2e2e2e" stroke="#2e2e2e" stroke-width="0.3" text-anchor="start" textLength="37.80" lengthAdjust="spacingAndGlyphs">(6815)</text>
<text x="183.10" y="60.50" font-size="12.1" font-weight="bold" fill="#0a0a0a" stroke="#0a0a0a" stroke-width="0.35" text-anchor="start" textLength="92.20" lengthAdjust="spacingAndGlyphs">BfuA<tspan font-family="Liberation Serif" font-size="12.6">I</tspan> - BspM<tspan font-family="Liberation Serif" font-size="12.6">I</tspan></text>
<text x="179.00" y="75.10" font-size="11.0" font-weight="normal" fill="#2e2e2e" stroke="#2e2e2e" stroke-width="0.3" text-anchor="start" textLength="35.90" lengthAdjust="spacingAndGlyphs">(6748)</text>
<text x="224.20" y="75.10" font-size="12.1" font-weight="bold" fill="#0a0a0a" stroke="#0a0a0a" stroke-width="0.35" text-anchor="start" textLength="31.50" lengthAdjust="spacingAndGlyphs">Nde<tspan font-family="Liberation Serif" font-size="12.6">I</tspan></text>
<text x="90.20" y="98.10" font-size="11.0" font-weight="normal" fill="#2e2e2e" stroke="#2e2e2e" stroke-width="0.3" text-anchor="start" textLength="36.50" lengthAdjust="spacingAndGlyphs">(6530)</text>
<text x="135.40" y="98.10" font-size="12.1" font-weight="bold" fill="#0a0a0a" stroke="#0a0a0a" stroke-width="0.35" text-anchor="start" textLength="95.70" lengthAdjust="spacingAndGlyphs">BspD<tspan font-family="Liberation Serif" font-size="12.6">I</tspan>* - Cla<tspan font-family="Liberation Serif" font-size="12.6">I</tspan>*</text>
<text x="90.20" y="112.70" font-size="11.0" font-weight="normal" fill="#2e2e2e" stroke="#2e2e2e" stroke-width="0.3" text-anchor="start" textLength="36.50" lengthAdjust="spacingAndGlyphs">(6441)</text>
<text x="135.40" y="112.70" font-size="12.1" font-weight="bold" fill="#0a0a0a" stroke="#0a0a0a" stroke-width="0.35" text-anchor="start" textLength="80.20" lengthAdjust="spacingAndGlyphs">Kfl<tspan font-family="Liberation Serif" font-size="12.6">I</tspan> - PpuM<tspan font-family="Liberation Serif" font-size="12.6">I</tspan></text>
<text x="102.70" y="160.20" font-size="11.0" font-weight="normal" fill="#2e2e2e" stroke="#2e2e2e" stroke-width="0.3" text-anchor="start" textLength="35.60" lengthAdjust="spacingAndGlyphs">(6084)</text>
<text x="147.70" y="160.20" font-size="12.1" font-weight="bold" fill="#0a0a0a" stroke="#0a0a0a" stroke-width="0.35" text-anchor="start" textLength="26.20" lengthAdjust="spacingAndGlyphs">Ale<tspan font-family="Liberation Serif" font-size="12.6">I</tspan></text>
<text x="4.50" y="196.20" font-size="11.0" font-weight="normal" fill="#2e2e2e" stroke="#2e2e2e" stroke-width="0.3" text-anchor="start" textLength="36.60" lengthAdjust="spacingAndGlyphs">(5931)</text>
<text x="50.10" y="196.20" font-size="12.1" font-weight="bold" fill="#0a0a0a" stroke="#0a0a0a" stroke-width="0.35" text-anchor="start" textLength="101.90" lengthAdjust="spacingAndGlyphs">BbvC<tspan font-family="Liberation Serif" font-size="12.6">I</tspan> - Bpu10<tspan font-family="Liberation Serif" font-size="12.6">I</tspan></text>
<text x="53.10" y="253.50" font-size="11.0" font-weight="normal" fill="#2e2e2e" stroke="#2e2e2e" stroke-width="0.3" text-anchor="start" textLength="36.30" lengthAdjust="spacingAndGlyphs">(5696)</text>
<text x="98.40" y="253.50" font-size="12.1" font-weight="bold" fill="#0a0a0a" stroke="#0a0a0a" stroke-width="0.35" text-anchor="start" textLength="29.20" lengthAdjust="spacingAndGlyphs">Mfe<tspan font-family="Liberation Serif" font-size="12.6">I</tspan></text>
<text x="39.40" y="267.80" font-size="11.0" font-weight="normal" fill="#2e2e2e" stroke="#2e2e2e" stroke-width="0.3" text-anchor="start" textLength="35.70" lengthAdjust="spacingAndGlyphs">(5677)</text>
<text x="85.00" y="267.80" font-size="12.1" font-weight="bold" fill="#0a0a0a" stroke="#0a0a0a" stroke-width="0.35" text-anchor="start" textLength="37.80" lengthAdjust="spacingAndGlyphs">EcoN<tspan font-family="Liberation Serif" font-size="12.6">I</tspan></text>
<text x="25.30" y="351.80" font-size="11.0" font-weight="normal" fill="#2e2e2e" stroke="#2e2e2e" stroke-width="0.3" text-anchor="start" textLength="36.70" lengthAdjust="spacingAndGlyphs">(5344)</text>
<text x="70.90" y="351.80" font-size="12.1" font-weight="bold" fill="#0a0a0a" stroke="#0a0a0a" stroke-width="0.35" text-anchor="start" textLength="36.40" lengthAdjust="spacingAndGlyphs">Nru<tspan font-family="Liberation Serif" font-size="12.6">I</tspan>*</text>
<text x="52.20" y="477.80" font-size="11.0" font-weight="normal" fill="#2e2e2e" stroke="#2e2e2e" stroke-width="0.3" text-anchor="start" textLength="36.30" lengthAdjust="spacingAndGlyphs">(4828)</text>
<text x="97.40" y="477.80" font-size="12.1" font-weight="bold" fill="#0a0a0a" stroke="#0a0a0a" stroke-width="0.35" text-anchor="start" textLength="30.60" lengthAdjust="spacingAndGlyphs">Sph<tspan font-family="Liberation Serif" font-size="12.6">I</tspan></text>
<text x="138.20" y="598.90" font-size="11.0" font-weight="normal" fill="#2e2e2e" stroke="#2e2e2e" stroke-width="0.3" text-anchor="start" textLength="35.80" lengthAdjust="spacingAndGlyphs">(4325)</text>
<text x="182.90" y="598.90" font-size="12.1" font-weight="bold" fill="#0a0a0a" stroke="#0a0a0a" stroke-width="0.35" text-anchor="start" textLength="24.70" lengthAdjust="spacingAndGlyphs">Pci<tspan font-family="Liberation Serif" font-size="12.6">I</tspan></text>
<text x="177.90" y="644.00" font-size="11.0" font-weight="normal" fill="#2e2e2e" stroke="#2e2e2e" stroke-width="0.3" text-anchor="start" textLength="36.10" lengthAdjust="spacingAndGlyphs">(4025)</text>
<text x="223.20" y="644.00" font-size="12.1" font-weight="bold" fill="#0a0a0a" stroke="#0a0a0a" stroke-width="0.35" text-anchor="start" textLength="36.90" lengthAdjust="spacingAndGlyphs">PspF<tspan font-family="Liberation Serif" font-size="12.6">I</tspan></text>
<text x="200.40" y="658.80" font-size="11.0" font-weight="normal" fill="#2e2e2e" stroke="#2e2e2e" stroke-width="0.3" text-anchor="start" textLength="35.80" lengthAdjust="spacingAndGlyphs">(4021)</text>
<text x="245.50" y="658.80" font-size="12.1" font-weight="bold" fill="#0a0a0a" stroke="#0a0a0a" stroke-width="0.35" text-anchor="start" textLength="37.90" lengthAdjust="spacingAndGlyphs">BseY<tspan font-family="Liberation Serif" font-size="12.6">I</tspan></text>
<text x="416.90" y="17.30" font-size="12.1" font-weight="bold" fill="#0a0a0a" stroke="#0a0a0a" stroke-width="0.35" text-anchor="start" textLength="34.20" lengthAdjust="spacingAndGlyphs">Xcm<tspan font-family="Liberation Serif" font-size="12.6">I</tspan></text>
<text x="458.50" y="17.30" font-size="11.0" font-weight="normal" fill="#2e2e2e" stroke="#2e2e2e" stroke-width="0.3" text-anchor="start" textLength="23.10" lengthAdjust="spacingAndGlyphs">(25)</text>
<text x="489.20" y="38.80" font-size="12.1" font-weight="bold" fill="#0a0a0a" stroke="#0a0a0a" stroke-width="0.35" text-anchor="start" textLength="30.40" lengthAdjust="spacingAndGlyphs">Spe<tspan font-family="Liberation Serif" font-size="12.6">I</tspan></text>
<text x="527.30" y="38.80" font-size="11.0" font-weight="normal" fill="#2e2e2e" stroke="#2e2e2e" stroke-width="0.3" text-anchor="start" textLength="29.70" lengthAdjust="spacingAndGlyphs">(253)</text>
<text x="520.30" y="53.60" font-size="12.1" font-weight="bold" fill="#0a0a0a" stroke="#0a0a0a" stroke-width="0.35" text-anchor="start" textLength="26.40" lengthAdjust="spacingAndGlyphs">Blp<tspan font-family="Liberation Serif" font-size="12.6">I</tspan></text>
<text x="555.00" y="53.60" font-size="11.0" font-weight="normal" fill="#2e2e2e" stroke="#2e2e2e" stroke-width="0.3" text-anchor="start" textLength="29.70" lengthAdjust="spacingAndGlyphs">(333)</text>
<text x="544.60" y="68.10" font-size="12.1" font-weight="bold" fill="#0a0a0a" stroke="#0a0a0a" stroke-width="0.35" text-anchor="start" textLength="28.60" lengthAdjust="spacingAndGlyphs">Asc<tspan font-family="Liberation Serif" font-size="12.6">I</tspan></text>
<text x="581.50" y="68.10" font-size="11.0" font-weight="normal" fill="#2e2e2e" stroke="#2e2e2e" stroke-width="0.3" text-anchor="start" textLength="29.50" lengthAdjust="spacingAndGlyphs">(342)</text>
<text x="574.60" y="89.60" font-size="12.1" font-weight="bold" fill="#0a0a0a" stroke="#0a0a0a" stroke-width="0.35" text-anchor="start" textLength="40.80" lengthAdjust="spacingAndGlyphs">Hinc<tspan font-family="Liberation Serif" font-size="12.6">I</tspan><tspan font-family="Liberation Serif" font-size="12.6">I</tspan></text>
<text x="624.00" y="89.60" font-size="11.0" font-weight="normal" fill="#2e2e2e" stroke="#2e2e2e" stroke-width="0.3" text-anchor="start" textLength="29.50" lengthAdjust="spacingAndGlyphs">(480)</text>
<text x="591.60" y="104.20" font-size="12.1" font-weight="bold" fill="#0a0a0a" stroke="#0a0a0a" stroke-width="0.35" text-anchor="start" textLength="44.90" lengthAdjust="spacingAndGlyphs">BamH<tspan font-family="Liberation Serif" font-size="12.6">I</tspan></text>
<text x="644.30" y="104.20" font-size="11.0" font-weight="normal" fill="#2e2e2e" stroke="#2e2e2e" stroke-width="0.3" text-anchor="start" textLength="29.70" lengthAdjust="spacingAndGlyphs">(510)</text>
<text x="607.60" y="118.50" font-size="12.1" font-weight="bold" fill="#0a0a0a" stroke="#0a0a0a" stroke-width="0.35" text-anchor="start" textLength="97.60" lengthAdjust="spacingAndGlyphs">PflF<tspan font-family="Liberation Serif" font-size="12.6">I</tspan> - Tth111<tspan font-family="Liberation Serif" font-size="12.6">I</tspan></text>
<text x="713.00" y="118.50" font-size="11.0" font-weight="normal" fill="#2e2e2e" stroke="#2e2e2e" stroke-width="0.3" text-anchor="start" textLength="29.70" lengthAdjust="spacingAndGlyphs">(571)</text>
<text x="621.20" y="133.50" font-size="12.1" font-weight="bold" fill="#0a0a0a" stroke="#0a0a0a" stroke-width="0.35" text-anchor="start" textLength="39.10" lengthAdjust="spacingAndGlyphs">BsiW<tspan font-family="Liberation Serif" font-size="12.6">I</tspan></text>
<text x="668.20" y="133.50" font-size="11.0" font-weight="normal" fill="#2e2e2e" stroke="#2e2e2e" stroke-width="0.3" text-anchor="start" textLength="29.60" lengthAdjust="spacingAndGlyphs">(585)</text>
<text x="633.10" y="147.80" font-size="12.1" font-weight="bold" fill="#0a0a0a" stroke="#0a0a0a" stroke-width="0.35" text-anchor="start" textLength="41.50" lengthAdjust="spacingAndGlyphs">BstE<tspan font-family="Liberation Serif" font-size="12.6">I</tspan><tspan font-family="Liberation Serif" font-size="12.6">I</tspan></text>
<text x="682.50" y="147.80" font-size="11.0" font-weight="normal" fill="#2e2e2e" stroke="#2e2e2e" stroke-width="0.3" text-anchor="start" textLength="29.90" lengthAdjust="spacingAndGlyphs">(663)</text>
<text x="661.90" y="187.90" font-size="12.1" font-weight="bold" fill="#0a0a0a" stroke="#0a0a0a" stroke-width="0.35" text-anchor="start" textLength="85.10" lengthAdjust="spacingAndGlyphs">Csi<tspan font-family="Liberation Serif" font-size="12.6">I</tspan> - SexA<tspan font-family="Liberation Serif" font-size="12.6">I</tspan>*</text>
<text x="755.70" y="187.90" font-size="11.0" font-weight="normal" fill="#2e2e2e" stroke="#2e2e2e" stroke-width="0.3" text-anchor="start" textLength="36.30" lengthAdjust="spacingAndGlyphs">(1096)</text>
<text x="669.60" y="203.20" font-size="12.1" font-weight="bold" fill="#0a0a0a" stroke="#0a0a0a" stroke-width="0.35" text-anchor="start" textLength="26.20" lengthAdjust="spacingAndGlyphs">Nsi<tspan font-family="Liberation Serif" font-size="12.6">I</tspan></text>
<text x="705.00" y="203.20" font-size="11.0" font-weight="normal" fill="#2e2e2e" stroke="#2e2e2e" stroke-width="0.3" text-anchor="start" textLength="35.00" lengthAdjust="spacingAndGlyphs">(1182)</text>
<text x="677.60" y="217.70" font-size="12.1" font-weight="bold" fill="#0a0a0a" stroke="#0a0a0a" stroke-width="0.35" text-anchor="start" textLength="44.90" lengthAdjust="spacingAndGlyphs">Acc65<tspan font-family="Liberation Serif" font-size="12.6">I</tspan></text>
<text x="730.80" y="217.70" font-size="11.0" font-weight="normal" fill="#2e2e2e" stroke="#2e2e2e" stroke-width="0.3" text-anchor="start" textLength="36.50" lengthAdjust="spacingAndGlyphs">(1185)</text>
<text x="684.20" y="232.30" font-size="12.1" font-weight="bold" fill="#0a0a0a" stroke="#0a0a0a" stroke-width="0.35" text-anchor="start" textLength="31.30" lengthAdjust="spacingAndGlyphs">Kpn<tspan font-family="Liberation Serif" font-size="12.6">I</tspan></text>
<text x="724.20" y="232.30" font-size="11.0" font-weight="normal" fill="#2e2e2e" stroke="#2e2e2e" stroke-width="0.3" text-anchor="start" textLength="35.90" lengthAdjust="spacingAndGlyphs">(1189)</text>
<text x="690.30" y="247.00" font-size="12.1" font-weight="bold" fill="#0a0a0a" stroke="#0a0a0a" stroke-width="0.35" text-anchor="start" textLength="29.60" lengthAdjust="spacingAndGlyphs">Bbs<tspan font-family="Liberation Serif" font-size="12.6">I</tspan></text>
<text x="728.00" y="247.00" font-size="11.0" font-weight="normal" fill="#2e2e2e" stroke="#2e2e2e" stroke-width="0.3" text-anchor="start" textLength="36.00" lengthAdjust="spacingAndGlyphs">(1287)</text>
<text x="712.90" y="352.40" font-size="12.1" font-weight="bold" fill="#0a0a0a" stroke="#0a0a0a" stroke-width="0.35" text-anchor="start" textLength="30.10" lengthAdjust="spacingAndGlyphs">Nco<tspan font-family="Liberation Serif" font-size="12.6">I</tspan></text>
<text x="751.80" y="352.40" font-size="11.0" font-weight="normal" fill="#2e2e2e" stroke="#2e2e2e" stroke-width="0.3" text-anchor="start" textLength="36.30" lengthAdjust="spacingAndGlyphs">(1763)</text>
<text x="713.50" y="366.90" font-size="12.1" font-weight="bold" fill="#0a0a0a" stroke="#0a0a0a" stroke-width="0.35" text-anchor="start" textLength="23.30" lengthAdjust="spacingAndGlyphs">Sfi<tspan font-family="Liberation Serif" font-size="12.6">I</tspan></text>
<text x="745.00" y="366.90" font-size="11.0" font-weight="normal" fill="#2e2e2e" stroke="#2e2e2e" stroke-width="0.3" text-anchor="start" textLength="36.00" lengthAdjust="spacingAndGlyphs">(1809)</text>
<text x="712.90" y="381.50" font-size="12.1" font-weight="bold" fill="#0a0a0a" stroke="#0a0a0a" stroke-width="0.35" text-anchor="start" textLength="34.00" lengthAdjust="spacingAndGlyphs">Avr<tspan font-family="Liberation Serif" font-size="12.6">I</tspan><tspan font-family="Liberation Serif" font-size="12.6">I</tspan></text>
<text x="755.70" y="381.50" font-size="11.0" font-weight="normal" fill="#2e2e2e" stroke="#2e2e2e" stroke-width="0.3" text-anchor="start" textLength="35.90" lengthAdjust="spacingAndGlyphs">(1856)</text>
<text x="695.40" y="470.10" font-size="12.1" font-weight="bold" fill="#0a0a0a" stroke="#0a0a0a" stroke-width="0.35" text-anchor="start" textLength="51.30" lengthAdjust="spacingAndGlyphs">NgoM<tspan font-family="Liberation Serif" font-size="12.6">I</tspan>V</text>
<text x="755.70" y="470.10" font-size="11.0" font-weight="normal" fill="#2e2e2e" stroke="#2e2e2e" stroke-width="0.3" text-anchor="start" textLength="36.30" lengthAdjust="spacingAndGlyphs">(2189)</text>
<text x="690.40" y="484.70" font-size="12.1" font-weight="bold" fill="#0a0a0a" stroke="#0a0a0a" stroke-width="0.35" text-anchor="start" textLength="31.10" lengthAdjust="spacingAndGlyphs">Nae<tspan font-family="Liberation Serif" font-size="12.6">I</tspan></text>
<text x="730.40" y="484.70" font-size="11.0" font-weight="normal" fill="#2e2e2e" stroke="#2e2e2e" stroke-width="0.3" text-anchor="start" textLength="35.40" lengthAdjust="spacingAndGlyphs">(2191)</text>
<text x="564.20" y="640.70" font-size="12.1" font-weight="bold" fill="#0a0a0a" stroke="#0a0a0a" stroke-width="0.35" text-anchor="start" textLength="28.70" lengthAdjust="spacingAndGlyphs">Sca<tspan font-family="Liberation Serif" font-size="12.6">I</tspan></text>
<text x="601.10" y="640.70" font-size="11.0" font-weight="normal" fill="#2e2e2e" stroke="#2e2e2e" stroke-width="0.3" text-anchor="start" textLength="36.90" lengthAdjust="spacingAndGlyphs">(2956)</text>
<rect x="60.40" y="488.00" width="79.10" height="14.00" rx="4" ry="4" fill="#ffffff" stroke="#aaaaaa" stroke-width="1.2"/>
<text x="99.95" y="498.70" font-size="11.5" font-weight="normal" fill="#1a1a1a" stroke="#1a1a1a" stroke-width="0.3" text-anchor="middle" textLength="72.10" lengthAdjust="spacingAndGlyphs">T3 promoter</text>
<rect x="94.40" y="506.90" width="54.00" height="14.20" rx="4" ry="4" fill="#dcaaf4" stroke="#b45ae6" stroke-width="1.2"/>
<text x="121.40" y="517.80" font-size="11.5" font-weight="normal" fill="#1a1a1a" stroke="#1a1a1a" stroke-width="0.3" text-anchor="middle" textLength="47.00" lengthAdjust="spacingAndGlyphs">M13 rev</text>
<rect x="82.10" y="525.50" width="77.30" height="14.50" rx="4" ry="4" fill="#a9d3de" stroke="#6aaabb" stroke-width="1.2"/>
<text x="120.75" y="536.70" font-size="11.5" font-weight="normal" fill="#1a1a1a" stroke="#1a1a1a" stroke-width="0.3" text-anchor="middle" textLength="70.30" lengthAdjust="spacingAndGlyphs">lac operator</text>
<rect x="90.50" y="544.10" width="80.90" height="14.60" rx="4" ry="4" fill="#ffffff" stroke="#aaaaaa" stroke-width="1.2"/>
<text x="130.95" y="555.40" font-size="11.5" font-weight="normal" fill="#1a1a1a" stroke="#1a1a1a" stroke-width="0.3" text-anchor="middle" textLength="73.90" lengthAdjust="spacingAndGlyphs">lac promoter</text>
<rect x="83.40" y="562.50" width="102.00" height="14.80" rx="4" ry="4" fill="#a9d3de" stroke="#6aaabb" stroke-width="1.2"/>
<text x="134.40" y="574.00" font-size="11.5" font-weight="normal" fill="#1a1a1a" stroke="#1a1a1a" stroke-width="0.3" text-anchor="middle" textLength="95.00" lengthAdjust="spacingAndGlyphs">CAP binding site</text>
<rect x="707.10" y="392.60" width="79.10" height="14.20" rx="4" ry="4" fill="#ffffff" stroke="#aaaaaa" stroke-width="1.2"/>
<text x="746.65" y="403.50" font-size="11.5" font-weight="normal" fill="#1a1a1a" stroke="#1a1a1a" stroke-width="0.3" text-anchor="middle" textLength="72.10" lengthAdjust="spacingAndGlyphs">T7 promoter</text>
<rect x="703.80" y="411.30" width="55.80" height="14.30" rx="4" ry="4" fill="#dcaaf4" stroke="#b45ae6" stroke-width="1.2"/>
<text x="731.70" y="422.30" font-size="11.5" font-weight="normal" fill="#1a1a1a" stroke="#1a1a1a" stroke-width="0.3" text-anchor="middle" textLength="48.80" lengthAdjust="spacingAndGlyphs">M13 fwd</text>
<polyline points="456.50,157.80 453.05,172.91" fill="none" stroke="#8a8a8a" stroke-width="1.15"/>
<polyline points="616.17,333.73 600.79,335.70" fill="none" stroke="#8a8a8a" stroke-width="1.15"/>
<polyline points="207.38,403.24 222.55,400.02" fill="none" stroke="#8a8a8a" stroke-width="1.15"/>
<text x="411.50" y="359.50" font-size="12.2" font-weight="bold" fill="#0a0a0a" stroke="#0a0a0a" stroke-width="0.35" text-anchor="middle" textLength="96.30" lengthAdjust="spacingAndGlyphs">pLKO.1-Puro</text>
<text x="411.40" y="374.10" font-size="10.3" font-weight="normal" fill="#333" stroke="#333" stroke-width="0.3" text-anchor="middle" textLength="43.40" lengthAdjust="spacingAndGlyphs">7050 bp</text>
<g>
<path id="tp1" d="M328.21,199.93 A180.00,180.00 0 0 1 553.82,251.40" fill="none"/>
<text font-size="11.5" font-weight="normal" fill="#1a1a1a" stroke="#1a1a1a" stroke-width="0.3"><textPath href="#tp1" startOffset="50%" text-anchor="middle" textLength="92.70" lengthAdjust="spacingAndGlyphs">hPGK promoter</textPath></text>
<path id="tp2" d="M235.84,273.09 A195.00,195.00 0 0 1 465.73,173.13" fill="none"/>
<text font-size="11.5" font-weight="normal" fill="#1a1a1a" stroke="#1a1a1a" stroke-width="0.3"><textPath href="#tp2" startOffset="50%" text-anchor="middle" textLength="75.19" lengthAdjust="spacingAndGlyphs">U6 promoter</textPath></text>
<path id="tp3" d="M412.22,146.11 A214.00,214.00 0 0 1 621.42,324.78" fill="none"/>
<text font-size="11.5" font-weight="normal" fill="#1a1a1a" stroke="#1a1a1a" stroke-width="0.3"><textPath href="#tp3" startOffset="50%" text-anchor="middle" textLength="36.56" lengthAdjust="spacingAndGlyphs">PuroR</textPath></text>
<path id="tp4" d="M494.35,186.34 A193.00,193.00 0 0 1 596.06,412.65" fill="none"/>
<text font-size="11.5" font-weight="normal" fill="#1a1a1a" stroke="#1a1a1a" stroke-width="0.3"><textPath href="#tp4" startOffset="50%" text-anchor="middle" textLength="74.16" lengthAdjust="spacingAndGlyphs">3' LTR (ΔU3)</textPath></text>
<path id="tp5" d="M534.94,228.81 A181.00,181.00 0 0 1 561.28,460.00" fill="none"/>
<text font-size="11.5" font-weight="normal" fill="#1a1a1a" stroke="#1a1a1a" stroke-width="0.3"><textPath href="#tp5" startOffset="50%" text-anchor="middle" textLength="121.54" lengthAdjust="spacingAndGlyphs">SV40 poly(A) signal</textPath></text>
<path id="tp6" d="M553.08,502.33 A201.50,201.50 0 0 0 575.21,244.24" fill="none"/>
<text font-size="11.5" font-weight="normal" fill="#1a1a1a" stroke="#1a1a1a" stroke-width="0.3"><textPath href="#tp6" startOffset="50%" text-anchor="middle" textLength="51.81" lengthAdjust="spacingAndGlyphs">SV40 ori</textPath></text>
<path id="tp7" d="M502.41,562.11 A222.00,222.00 0 0 0 625.28,304.52" fill="none"/>
<text font-size="11.5" font-weight="normal" fill="#1a1a1a" stroke="#1a1a1a" stroke-width="0.3"><textPath href="#tp7" startOffset="50%" text-anchor="middle" textLength="30.90" lengthAdjust="spacingAndGlyphs">f1 ori</textPath></text>
<path id="tp8" d="M434.85,559.60 A201.00,201.00 0 0 0 611.07,370.62" fill="none"/>
<text font-size="11.5" font-weight="normal" fill="#1a1a1a" stroke="#1a1a1a" stroke-width="0.3"><textPath href="#tp8" startOffset="50%" text-anchor="middle" textLength="96.61" lengthAdjust="spacingAndGlyphs">AmpR promoter</textPath></text>
<path id="tp9" d="M350.43,552.48 A201.50,201.50 0 0 0 589.41,452.52" fill="none"/>
<text font-size="11.5" font-weight="normal" fill="#1a1a1a" stroke="#1a1a1a" stroke-width="0.3"><textPath href="#tp9" startOffset="50%" text-anchor="middle" textLength="37.49" lengthAdjust="spacingAndGlyphs">AmpR</textPath></text>
<path id="tp10" d="M216.18,467.73 A222.00,222.00 0 0 0 482.63,570.01" fill="none"/>
<text font-size="11.5" font-weight="normal" fill="#1a1a1a" stroke="#1a1a1a" stroke-width="0.3"><textPath href="#tp10" startOffset="50%" text-anchor="middle" textLength="15.45" lengthAdjust="spacingAndGlyphs">ori</textPath></text>
<path id="tp11" d="M213.25,320.71 A201.00,201.00 0 0 0 337.34,547.37" fill="none"/>
<text font-size="11.5" font-weight="normal" fill="#1a1a1a" stroke="#1a1a1a" stroke-width="0.3"><textPath href="#tp11" startOffset="50%" text-anchor="middle" textLength="85.49" lengthAdjust="spacingAndGlyphs">RSV promoter</textPath></text>
<path id="tp12" d="M244.05,272.42 A188.00,188.00 0 0 0 295.12,508.65" fill="none"/>
<text font-size="11.5" font-weight="normal" fill="#1a1a1a" stroke="#1a1a1a" stroke-width="0.3"><textPath href="#tp12" startOffset="50%" text-anchor="middle" textLength="113.30" lengthAdjust="spacingAndGlyphs">5' LTR (truncated)</textPath></text>
<path id="tp13" d="M251.39,235.46 A202.00,202.00 0 0 0 260.00,495.00" fill="none"/>
<text font-size="11.5" font-weight="normal" fill="#1a1a1a" stroke="#1a1a1a" stroke-width="0.3"><textPath href="#tp13" startOffset="50%" text-anchor="middle" textLength="49.13" lengthAdjust="spacingAndGlyphs">HIV-1 ψ</textPath></text>
<path id="tp14" d="M198.08,387.29 A214.00,214.00 0 0 1 346.71,155.78" fill="none"/>
<text font-size="11.5" font-weight="normal" fill="#1a1a1a" stroke="#1a1a1a" stroke-width="0.3"><textPath href="#tp14" startOffset="50%" text-anchor="middle" textLength="25.75" lengthAdjust="spacingAndGlyphs">RRE</textPath></text>
<path id="tp15" d="M216.37,362.81 A194.00,194.00 0 0 1 374.00,169.54" fill="none"/>
<text font-size="11.5" font-weight="normal" fill="#1a1a1a" stroke="#1a1a1a" stroke-width="0.3"><textPath href="#tp15" startOffset="50%" text-anchor="middle" textLength="75.19" lengthAdjust="spacingAndGlyphs">gp41 peptide</textPath></text>
</g>
<text x="409.30" y="166.60" font-size="11.5" font-weight="normal" fill="#1a1a1a" stroke="#1a1a1a" stroke-width="0.3" text-anchor="middle" textLength="56.40" lengthAdjust="spacingAndGlyphs" transform="rotate(-1 409.3 162)">cPPT/CTS</text>
<polygon points="407.20,65.50 367.78,23.05 369.26,21.57 360.70,19.10 363.18,27.65 364.67,26.17" fill="#ff1a1a"/>
<polygon points="295.40,100.60 296.25,58.13 298.35,58.06 293.80,50.40 289.75,58.33 291.85,58.27" fill="#ff1a1a"/>
</svg>
</body></html>
